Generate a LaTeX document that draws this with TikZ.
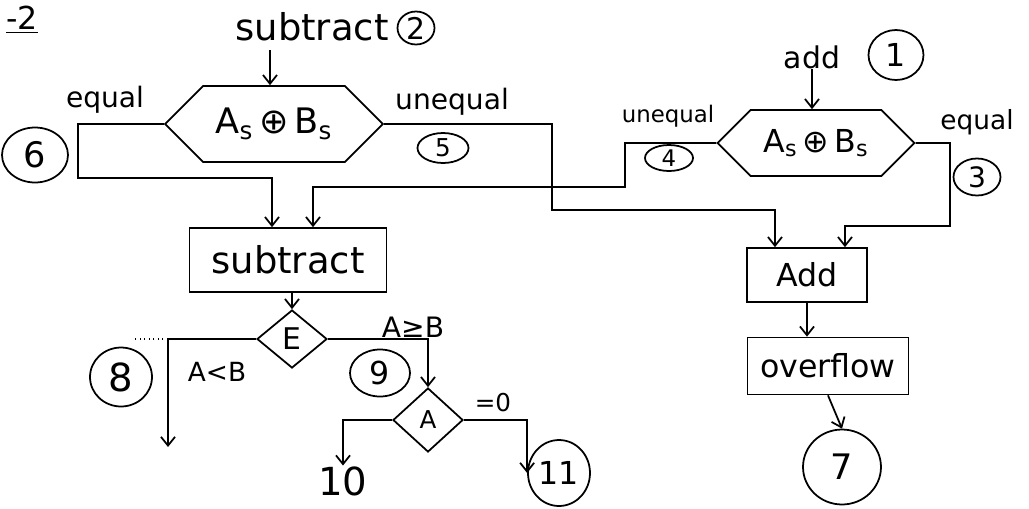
\documentclass[tikz,border=0pt]{standalone}
\usepackage{fontspec}
\setmainfont{DejaVu Sans}
\usetikzlibrary{shapes.geometric,shapes.symbols,arrows.meta,calc}
\newcommand{\fs}[1]{\fontsize{#1}{#1}\selectfont}
\begin{document}
\begin{tikzpicture}[x=0.02cm,y=-0.02cm,line width=1pt,
  arr/.style={-{Straight Barb[length=5pt,width=8pt]}},
  box/.style={draw,rectangle,inner sep=0pt},
  hexa/.style={draw,signal,signal to=west and east,inner sep=0pt},
  dia/.style={draw,diamond,inner sep=0pt},
  num/.style={draw,ellipse,inner sep=0pt},
  lbl/.style={inner sep=0pt}]
\useasboundingbox (0,0) rectangle (1029,508);

% title fragment
\node[lbl,font=\fs{18}] (ttl) at (22,20) {\underline{-2}};

% left decision (subtract)
\node[lbl,font=\fs{21}] (subtxt) at (312,27) {subtract};
\node[num,minimum width=0.74cm,minimum height=0.66cm,font=\fs{17}] (c2) at (416,28) {2};
\coordinate (subin) at (270,50);
\node[hexa,minimum width=4.36cm,minimum height=1.52cm,font=\fs{20}] (hexL) at (274,124) {A\textsubscript{s}\,⊕\,B\textsubscript{s}};
\node[lbl,font=\fs{16}] (eqL) at (105,100) {equal};
\node[num,minimum width=1.32cm,minimum height=1.1cm,font=\fs{20}] (c6) at (35,155) {6};
\node[lbl,font=\fs{16}] (uneqL) at (452,102) {unequal};
\node[num,minimum width=1.02cm,minimum height=0.6cm,font=\fs{14}] (c5) at (443,148) {5};

% right decision (add)
\node[lbl,font=\fs{17}] (addtxt) at (812,57) {add};
\node[num,minimum width=1.1cm,minimum height=1.0cm,font=\fs{18}] (c1) at (896,55) {1};
\node[hexa,minimum width=3.94cm,minimum height=1.32cm,font=\fs{18}] (hexR) at (816,143) {A\textsubscript{s}\,⊕\,B\textsubscript{s}};
\node[lbl,font=\fs{13}] (uneqR) at (668,116) {unequal};
\node[num,minimum width=0.96cm,minimum height=0.52cm,font=\fs{13}] (c4) at (669,158) {4};
\node[lbl,font=\fs{15}] (eqR) at (977,122) {equal};
\node[num,minimum width=0.94cm,minimum height=0.74cm,font=\fs{16}] (c3) at (977,177) {3};

% process boxes
\node[box,minimum width=3.94cm,minimum height=1.28cm,font=\fs{21}] (sub) at (288,260) {subtract};
\node[box,minimum width=2.4cm,minimum height=1.08cm,font=\fs{18}] (add) at (807,275) {Add};
\node[box,minimum width=3.22cm,minimum height=1.14cm,font=\fs{18}] (ovf) at (828,366) {overflow};
\node[num,minimum width=1.56cm,minimum height=1.5cm,font=\fs{20}] (c7) at (842,467) {7};

% lower decisions
\node[dia,minimum width=1.4cm,minimum height=1.16cm,font=\fs{17}] (E) at (292,339) {E};
\node[dia,minimum width=1.4cm,minimum height=1.28cm,font=\fs{14}] (A) at (428,420) {A};
\node[lbl,font=\fs{15}] (altb) at (217,372) {A<B};
\node[lbl,font=\fs{16}] (ageb) at (413,327) {A≥B};
\node[num,minimum width=1.24cm,minimum height=1.18cm,font=\fs{22}] (c8) at (121,377) {8};
\node[num,minimum width=1.2cm,minimum height=0.94cm,font=\fs{18}] (c9) at (380,373) {9};
\node[lbl,font=\fs{14}] (eq0) at (493,403) {=0};
\node[lbl,font=\fs{22}] (n10) at (343,481) {10};
\node[num,minimum width=1.24cm,minimum height=1.32cm,font=\fs{18}] (c11) at (559,473) {11};
\coordinate (endAB) at (168,447);

% connectors
\draw[arr] (subin) -- (subin |- hexL.north);
\draw[arr] (addtxt.south) -- (addtxt.south |- hexR.north);
\draw[arr] (hexL.180) -- (78,124) -- (78,178) -| ($(sub.north)+(-16,0)$);
\draw[arr] (hexL.0) -- (552,124) -- (552,210) -| ($(add.north)+(-32,0)$);
\draw[arr] (hexR.180) -- (625,143) -- (625,187) -| ($(sub.north)+(25,0)$);
\draw[arr] (hexR.0) -- (950,143) -- (950,226) -| ($(add.north)+(38,0)$);
\draw[arr] (sub.south -| E.north) -- (E.north);
\draw[arr] (E.180) -| (endAB);
\draw[dotted,line width=0.6pt] (168,339) -- (135,339);
\draw[arr] (E.0) -| (A.north);
\draw[arr] (A.180) -| (n10.north);
\draw[arr] (A.0) -| (c11.west);
\draw[arr] (add.south) -- (add.south |- ovf.north);
\draw[arr] (ovf.south) -- (c7.north);
\end{tikzpicture}
\end{document}
